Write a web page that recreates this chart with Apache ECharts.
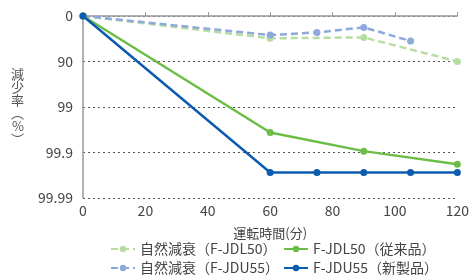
<!DOCTYPE html>
<html>
<head>
<meta charset="utf-8">
<script src="https://cdn.jsdelivr.net/npm/echarts@6/dist/echarts.min.js"></script>
<style>
  html, body { margin: 0; padding: 0; background: #fff; }
  #chart { width: 472px; height: 280px; }
</style>
</head>
<body>
<div id="chart"></div>
<script>
// 減少率は対数目盛（0=0%, 1=90%, 2=99%, 3=99.9%, 4=99.99%）
const yTickLabels = ['0', '90', '99', '99.9', '99.99']
const names = ['自然減衰（F-JDL50）', 'F-JDL50（従来品）', '自然減衰（F-JDU55）', 'F-JDU55（新製品）']

const naturalJdl50 = [[0, 0], [60, 0.49], [90, 0.47], [120, 1.0]]
const jdl50 = [[0, 0], [60, 2.56], [90, 2.97], [120, 3.26]]
const naturalJdu55 = [[0, 0], [60, 0.42], [75, 0.36], [90, 0.25], [105, 0.55]]
const jdu55 = [[0, 0], [60, 3.44], [75, 3.44], [90, 3.44], [105, 3.44], [120, 3.44]]

const font = '"Noto Sans CJK JP", "Noto Sans", sans-serif'
const colors = ['#b7dca2', '#6cbd45', '#8ea8dc', '#0b5cae']

const chart = echarts.init(document.getElementById('chart'))

const mkLegend = (name, left, top) => ({
  data: [name],
  left: left,
  top: top,
  itemWidth: 24,
  itemHeight: 8,
  itemGap: 4,
  padding: 0,
  textStyle: { fontFamily: font, fontSize: 14, color: '#444' }
})

const mkSeries = (name, data, color, dashed) => ({
  name: name,
  type: 'line',
  data: data,
  symbol: 'circle',
  symbolSize: 7,
  color: color,
  lineStyle: { width: 2.5, type: dashed ? [7, 4] : 'solid', color: color },
  itemStyle: { color: color },
  z: dashed ? 2 : 3
})

const option = {
  animation: false,
  grid: { left: 83, right: 11, top: 16, bottom: 82 },
  legend: [
    mkLegend(names[0], 110, 242),
    mkLegend(names[1], 283, 242),
    mkLegend(names[2], 110, 261),
    mkLegend(names[3], 283, 261)
  ],
  xAxis: {
    type: 'value',
    min: 0,
    max: 120,
    interval: 20,
    name: '運転時間(分)',
    nameLocation: 'middle',
    nameGap: 29,
    nameTextStyle: { fontFamily: font, fontSize: 13, color: '#444' },
    axisLine: { lineStyle: { color: '#999', width: 1.5 } },
    axisTick: { show: true, inside: true, length: 4, lineStyle: { color: '#999' } },
    axisLabel: { fontFamily: font, fontSize: 14, color: '#444', margin: 6 },
    splitLine: { show: false }
  },
  yAxis: {
    type: 'value',
    inverse: true,
    min: 0,
    max: 4,
    interval: 1,
    name: '減\n少\n率\n︵\n%\n︶',
    nameLocation: 'middle',
    nameRotate: 0,
    nameGap: 59,
    nameTextStyle: { fontFamily: font, fontSize: 13, color: '#555', lineHeight: 13, padding: [44, 0, 0, 0] },
    axisLine: { show: true, lineStyle: { color: '#999', width: 1.5 } },
    axisTick: { show: false },
    axisLabel: {
      fontFamily: font,
      fontSize: 14,
      color: '#444',
      margin: 10,
      formatter: v => yTickLabels[v]
    },
    splitLine: { show: true, lineStyle: { color: '#555', type: [2, 3], width: 1 } }
  },
  series: [
    mkSeries(names[0], naturalJdl50, colors[0], true),
    mkSeries(names[1], jdl50, colors[1], false),
    mkSeries(names[2], naturalJdu55, colors[2], true),
    mkSeries(names[3], jdu55, colors[3], false)
  ]
}

chart.setOption(option)
</script>
</body>
</html>
